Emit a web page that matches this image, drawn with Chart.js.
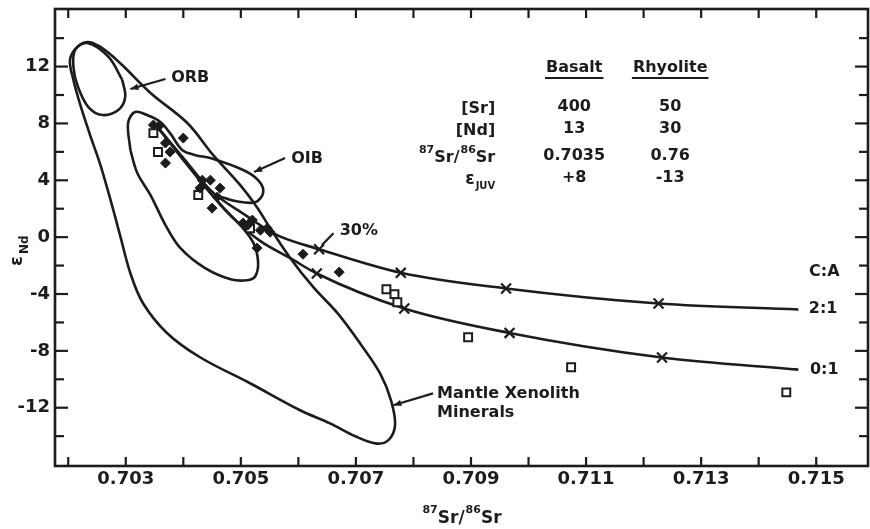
<!DOCTYPE html>
<html><head><meta charset="utf-8">
<script src="https://cdn.jsdelivr.net/npm/chart.js@4.4.1/dist/chart.umd.min.js"></script>
<style>html,body{margin:0;padding:0;background:#fff;}#wrap{width:870px;height:529px;}</style>
</head><body><div id="wrap"><canvas id="c" width="870" height="529"></canvas></div>
<script>
const INK = '#1c1c1c';
const FONT = "'DejaVu Sans', sans-serif";

// ---- tick values and labels ----
const xTicks = [0.702,0.703,0.704,0.705,0.706,0.707,0.708,0.709,0.710,0.711,0.712,0.713,0.714,0.715];
const xTickLabels = ['','0.703','','0.705','','0.707','','0.709','','0.711','','0.713','','0.715'];
const yTicks = [-14,-12,-10,-8,-6,-4,-2,0,2,4,6,8,10,12,14];
const yTickLabels = ['','-12','','-8','','-4','','0','','4','','8','','12',''];

// ---- sample data ----
const filledDiamonds = [[0.70348,7.89],[0.70358,7.82],[0.70400,6.97],[0.70369,6.62],[0.70377,5.99],[0.70369,5.21],
  [0.70433,4.01],[0.70447,4.01],[0.70429,3.45],[0.70464,3.45],[0.70459,2.82],[0.70450,2.04],[0.70504,0.99],
  [0.70512,0.85],[0.70520,1.20],[0.70534,0.49],[0.70546,0.63],[0.70551,0.35],[0.70528,-0.77],[0.70608,-1.20],[0.70671,-2.46]];
const openSquares = [[0.70348,7.32],[0.70356,5.99],[0.70426,2.96],[0.70516,0.63],[0.70753,-3.66],[0.70767,-4.01],
  [0.70772,-4.58],[0.70895,-7.04],[0.71074,-9.15],[0.71448,-10.92]];

// ---- mixing curves (C:A 2:1 and 0:1) ----
const mixCurve21 = [[0.7035,8.0],[0.70403,5.42],[0.70447,3.31],[0.70508,1.55],[0.70563,0.14],[0.70636,-0.85],
  [0.70778,-2.51],[0.70961,-3.61],[0.71226,-4.67],[0.71469,-5.09]];
const mixCurve01 = [[0.7035,8.0],[0.70403,5.28],[0.70450,2.96],[0.70494,1.06],[0.70534,-0.28],[0.70586,-1.48],
  [0.70632,-2.56],[0.70784,-5.02],[0.70967,-6.74],[0.71232,-8.47],[0.71469,-9.32]];
const marks21 = [[0.70636,-0.85],[0.70778,-2.51],[0.70961,-3.61],[0.71226,-4.67]];
const marks01 = [[0.70632,-2.56],[0.70784,-5.02],[0.70967,-6.74],[0.71232,-8.47]];

// ---- fields ----
const orbField = [[0.70294,11.06],[0.70299,9.86],[0.70287,8.94],[0.70259,8.59],[0.70235,9.15],[0.70217,10.56],
  [0.70209,11.97],[0.70212,13.17],[0.70233,13.66],[0.70270,12.68],[0.70294,11.06]];
const oibField = [[0.70308,6.13],[0.70304,8.03],[0.70316,8.80],[0.70337,8.59],[0.70360,8.10],[0.70377,7.32],
  [0.70398,6.13],[0.70421,5.77],[0.70447,5.56],[0.70504,4.72],[0.70530,4.01],[0.70539,3.17],[0.70525,2.46],
  [0.70490,2.54],[0.70455,2.89],[0.70473,1.90],[0.70499,0.85],[0.70522,-0.42],[0.70530,-1.76],[0.70525,-2.75],
  [0.70511,-3.03],[0.70482,-2.96],[0.70438,-2.18],[0.70395,-0.77],[0.70369,0.85],[0.70343,2.96],[0.70320,4.51],[0.70308,6.13]];
const xenolithField = [[0.70290,0.14],[0.70276,2.25],[0.70256,5.07],[0.70238,7.18],[0.70221,9.30],[0.70209,11.06],
  [0.70203,12.46],[0.70214,13.31],[0.70233,13.73],[0.70256,13.38],[0.70290,12.25],[0.70343,10.14],[0.70407,8.03],
  [0.70452,5.77],[0.70499,3.66],[0.70528,2.11],[0.70551,0.63],[0.70586,-1.48],[0.70626,-3.52],[0.70668,-5.35],
  [0.70707,-7.46],[0.70742,-9.58],[0.70761,-11.48],[0.70768,-13.24],[0.70756,-14.30],[0.70734,-14.51],
  [0.70699,-14.01],[0.70655,-13.10],[0.70603,-12.18],[0.70516,-10.28],[0.70429,-8.45],[0.70372,-6.76],
  [0.70330,-4.65],[0.70308,-2.54],[0.70290,0.14]];

// ---- table text ----
const tableHeaders = ['Basalt','Rhyolite'];
const tableRows = ['[Sr]','[Nd]','87Sr/86Sr','eJUV'];
const basaltValues = ['400','13','0.7035','+8'];
const rhyoliteValues = ['50','30','0.76','-13'];

const P = a => a.map(([x,y]) => ({x,y}));

function lineDS(arr, mono) {
  return {data: P(arr), showLine: true, pointRadius: 0, borderColor: INK, borderWidth: 2.6,
    tension: mono ? 0.4 : 0.35, cubicInterpolationMode: mono ? 'monotone' : 'default', fill: false, order: 3};
}

function drawPieces(ctx, pieces, x, base) {
  for (const p of pieces) {
    ctx.font = 'bold ' + p.s + 'px ' + FONT;
    ctx.fillText(p.t, x, base + (p.dy || 0));
    x += ctx.measureText(p.t).width + (p.gap || 0);
  }
}
function piecesWidth(ctx, pieces) {
  let w = 0;
  for (const p of pieces) { ctx.font = 'bold ' + p.s + 'px ' + FONT; w += ctx.measureText(p.t).width + (p.gap || 0); }
  return w;
}

const ink = {
  id: 'ink',
  afterDraw(chart) {
    const {ctx, chartArea: a} = chart;
    const xs = chart.scales.x, ys = chart.scales.y;
    const X = v => xs.getPixelForValue(v), Y = v => ys.getPixelForValue(v);
    ctx.save();
    ctx.strokeStyle = INK; ctx.fillStyle = INK; ctx.lineCap = 'butt';
    const seg = (x1,y1,x2,y2) => { ctx.beginPath(); ctx.moveTo(x1,y1); ctx.lineTo(x2,y2); ctx.stroke(); };
    // frame
    ctx.lineWidth = 2.6;
    ctx.strokeRect(a.left, a.top, a.right - a.left, a.bottom - a.top);
    // inward ticks
    ctx.lineWidth = 2.2;
    xTicks.forEach(v => { const px = X(v); seg(px, a.bottom, px, a.bottom - 9); seg(px, a.top, px, a.top + 9); });
    yTicks.forEach((v, i) => { const py = Y(v); const L = yTickLabels[i] ? 13 : 9;
      seg(a.left, py, a.left + L, py); seg(a.right, py, a.right - L, py); });

    // axis titles
    ctx.textAlign = 'left'; ctx.textBaseline = 'alphabetic';
    const xt = [{t:'87',s:11,dy:-10},{t:'Sr',s:17},{t:'/',s:17,gap:1},{t:'86',s:11,dy:-10},{t:'Sr',s:17}];
    const xw = piecesWidth(ctx, xt);
    drawPieces(ctx, xt, 462 - xw / 2, a.bottom + 57);
    ctx.save();
    ctx.translate(0, 250); ctx.rotate(-Math.PI / 2);
    drawPieces(ctx, [{t:'\u03b5',s:18,gap:2},{t:'Nd',s:12,dy:6}], -16, 22);
    ctx.restore();

    // annotation labels
    const text = (s, xv, yv, size, align) => {
      ctx.font = 'bold ' + size + 'px ' + FONT; ctx.textAlign = align || 'center'; ctx.textBaseline = 'middle';
      ctx.fillText(s, X(xv), Y(yv));
    };
    const arrow = (x1, y1, x2, y2, head) => {
      const p1 = [X(x1), Y(y1)], p2 = [X(x2), Y(y2)];
      ctx.lineWidth = 2.2; seg(p1[0], p1[1], p2[0], p2[1]);
      if (head) {
        const ang = Math.atan2(p2[1] - p1[1], p2[0] - p1[0]), L = 8, W = 3.2;
        ctx.beginPath(); ctx.moveTo(p2[0], p2[1]);
        ctx.lineTo(p2[0] - L * Math.cos(ang) + W * Math.sin(ang), p2[1] - L * Math.sin(ang) - W * Math.cos(ang));
        ctx.lineTo(p2[0] - L * Math.cos(ang) - W * Math.sin(ang), p2[1] - L * Math.sin(ang) + W * Math.cos(ang));
        ctx.closePath(); ctx.fill();
      }
    };
    text('ORB', 0.70412, 11.20, 16); arrow(0.70369, 11.13, 0.70308, 10.42, true);
    text('OIB', 0.70615, 5.49, 16); arrow(0.70577, 5.56, 0.70523, 4.58, true);
    text('30%', 0.70705, 0.42, 16); arrow(0.70661, 0.28, 0.70641, -0.56, false);
    text('Mantle Xenolith', 0.70841, -10.99, 16, 'left');
    text('Minerals', 0.70841, -12.39, 16, 'left');
    arrow(0.70834, -10.99, 0.70765, -11.83, true);
    text('C:A', 0.71514, -2.46, 16); text('2:1', 0.71512, -5.07, 16); text('0:1', 0.71514, -9.37, 16);

    // table
    const colX = [X(0.710794), X(0.712462)], labR = X(0.709421);
    const rowY = [Y(9.15), Y(7.61), Y(5.70), Y(4.15)];
    const hy = Y(11.90), uy = Y(11.20);
    ctx.textBaseline = 'middle';
    ctx.font = 'bold 16px ' + FONT; ctx.textAlign = 'center';
    tableHeaders.forEach((h, i) => {
      ctx.fillText(h, colX[i], hy);
      const w = ctx.measureText(h).width;
      ctx.lineWidth = 2; seg(colX[i] - w / 2 - 1, uy, colX[i] + w / 2 + 1, uy);
    });
    rowY.forEach((ry, r) => {
      ctx.font = 'bold 16px ' + FONT; ctx.textAlign = 'center'; ctx.textBaseline = 'middle';
      ctx.fillText(basaltValues[r], colX[0], ry);
      ctx.fillText(rhyoliteValues[r], colX[1], ry);
      ctx.textAlign = 'left'; ctx.textBaseline = 'alphabetic';
      const base = ry + 6;
      let pcs;
      if (tableRows[r] === '87Sr/86Sr') pcs = [{t:'87',s:11,dy:-9},{t:'Sr',s:16},{t:'/',s:16,gap:1},{t:'86',s:11,dy:-9},{t:'Sr',s:16}];
      else if (tableRows[r] === 'eJUV') pcs = [{t:'\u03b5',s:17,gap:1},{t:'JUV',s:10,dy:5}];
      else pcs = [{t:tableRows[r],s:16}];
      drawPieces(ctx, pcs, labR - piecesWidth(ctx, pcs), base);
    });
    ctx.restore();
  }
};

const noPad = s => { s.paddingLeft = 0; s.paddingRight = 0; s.paddingTop = 0; s.paddingBottom = 0; };

new Chart(document.getElementById('c'), {
  type: 'scatter',
  data: { datasets: [
    {data: P(filledDiamonds), pointStyle: 'rectRot', pointRadius: 5, backgroundColor: INK, borderColor: INK, borderWidth: 1, order: 0},
    {data: P(openSquares), pointStyle: 'rect', pointRadius: 5.6, backgroundColor: '#fff', borderColor: INK, borderWidth: 2, order: 0},
    {data: P(marks21), pointStyle: 'crossRot', pointRadius: 7, borderColor: INK, borderWidth: 2.2, order: 1},
    {data: P(marks01), pointStyle: 'crossRot', pointRadius: 7, borderColor: INK, borderWidth: 2.2, order: 1},
    lineDS(mixCurve21, true),
    lineDS(mixCurve01, true),
    lineDS(orbField, false),
    lineDS(oibField, false),
    lineDS(xenolithField, false)
  ]},
  plugins: [ink],
  options: {
    responsive: false, animation: false, devicePixelRatio: 1,
    layout: {autoPadding: false, padding: {top: 9, right: 2, left: 0, bottom: 0}},
    plugins: {legend: {display: false}, tooltip: {enabled: false}},
    scales: {
      x: {type: 'linear', position: 'bottom', min: 0.70177, max: 0.7159,
        grid: {display: false, drawTicks: false}, border: {display: false},
        afterBuildTicks: s => { s.ticks = xTicks.map(v => ({value: v})); },
        afterFit: s => { s.height = 63; noPad(s); },
        ticks: {autoSkip: false, maxRotation: 0, minRotation: 0, padding: 3, color: INK,
          font: {family: FONT, size: 18, weight: 'bold'}, callback: (v, i) => xTickLabels[i]}},
      y: {type: 'linear', position: 'left', min: -16.1, max: 16.05,
        grid: {display: false, drawTicks: false}, border: {display: false},
        afterBuildTicks: s => { s.ticks = yTicks.map(v => ({value: v})); },
        afterFit: s => { s.width = 55; noPad(s); },
        ticks: {autoSkip: false, padding: 5, color: INK,
          font: {family: FONT, size: 18, weight: 'bold'}, callback: (v, i) => yTickLabels[i]}}
    }
  }
});
</script></body></html>
